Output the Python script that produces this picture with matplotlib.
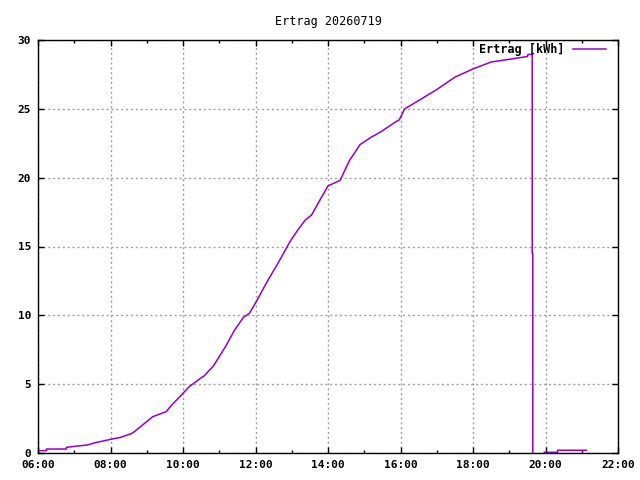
import matplotlib
matplotlib.use("Agg")
import matplotlib.pyplot as plt
import numpy as np

# readings of the day (clock time, cumulative yield in kWh)
times = ["06:00", "06:14", "06:14", "06:47", "06:47", "07:06", "07:22", "07:33",
         "08:00", "08:17", "08:36", "08:53", "09:10", "09:32", "09:43", "09:55",
         "10:10", "10:28", "10:35", "10:50", "11:10", "11:25", "11:40", "11:50",
         "12:00", "12:20", "12:40", "12:57", "13:10", "13:22", "13:33", "13:47",
         "14:00", "14:20", "14:35", "14:53", "15:10", "15:30", "15:50", "15:58",
         "16:07", "16:30", "17:00", "17:30", "18:00", "18:30", "19:00", "19:30",
         "19:31", "19:38", "19:38", "19:39", "19:39", "19:50",
         "19:58", "20:20", "20:20", "21:08"]
ertrag = [0.17, 0.17, 0.29, 0.29, 0.41, 0.51, 0.58, 0.73,
          0.99, 1.14, 1.43, 2.03, 2.64, 3.0, 3.56, 4.1,
          4.8, 5.4, 5.6, 6.3, 7.7, 8.9, 9.85, 10.15,
          10.9, 12.5, 14.0, 15.35, 16.2, 16.9, 17.3, 18.4,
          19.4, 19.8, 21.2, 22.4, 22.9, 23.4, 24.0, 24.2,
          25.0, 25.6, 26.4, 27.3, 27.9, 28.4, 28.6, 28.8,
          28.95, 28.95, 14.5, 14.5, 0.0, np.nan,
          0.05, 0.05, 0.2, 0.2]

x_ticks = list(range(6, 23, 2))
y_ticks = [0, 5, 10, 15, 20, 25, 30]


def to_hours(s):
    h, m = s.split(":")
    return int(h) + int(m) / 60.0


hours = [to_hours(t) for t in times]

plt.rcParams['font.family'] = ['DejaVu Sans Mono']
plt.rcParams['font.weight'] = 'bold'

fig = plt.figure(figsize=(6.4, 4.8), dpi=100)
ax = fig.add_axes([38 / 640, 27 / 480, 580 / 640, 413 / 480])

ax.plot(hours, ertrag, color='#9400d3', linewidth=1.1, label='Ertrag [kWh]')

ax.set_xlim(6, 22)
ax.set_ylim(0, 30)
ax.set_xticks(x_ticks)
ax.set_xticklabels(["%02d:00" % h for h in x_ticks])
ax.set_xticks(list(range(7, 22, 2)), minor=True)
ax.set_yticks(y_ticks)

ax.tick_params(which='both', direction='in', top=True, right=True,
               labelsize=8, width=1, color='black')
ax.tick_params(which='major', length=4.5, pad=5)
ax.tick_params(which='minor', length=2.2)

ax.grid(True, which='major', color='#a0a0a0', linestyle=(0, (1.5, 2)), linewidth=1)

for sp in ax.spines.values():
    sp.set_linewidth(1)
    sp.set_color('black')

ax.set_title('Ertrag 20260719', fontsize=8.5, pad=11)

leg = ax.legend(loc='upper right', frameon=False, markerfirst=False,
                handlelength=2.75, fontsize=8.5, borderaxespad=0.2,
                handletextpad=0.7, bbox_to_anchor=(0.991, 1.01))

fig.savefig('out.png', dpi=100)
